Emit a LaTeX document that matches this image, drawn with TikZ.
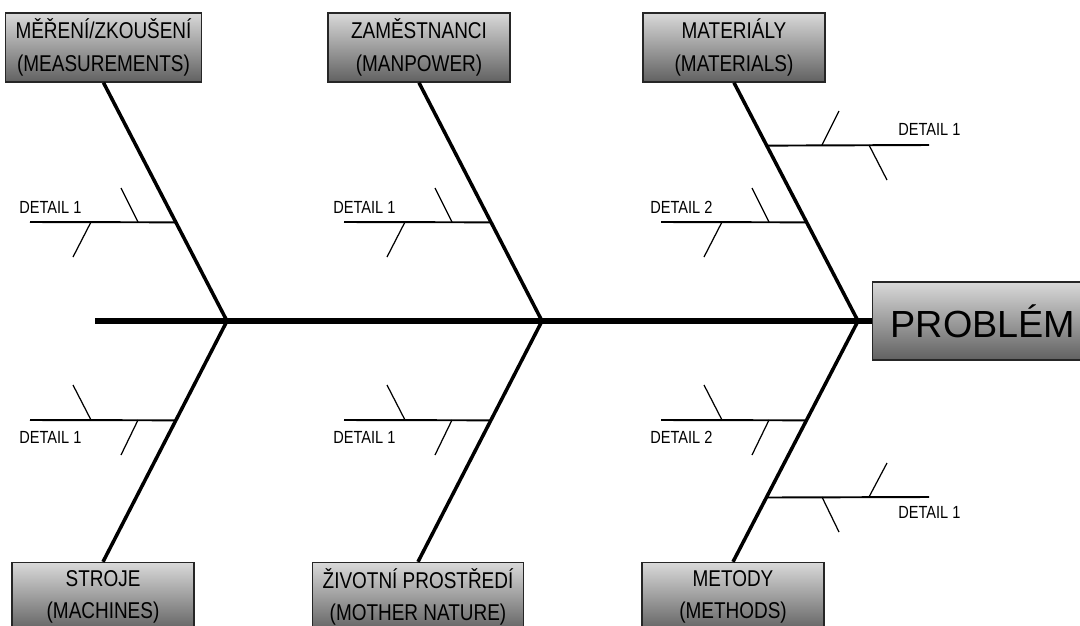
\documentclass[tikz,border=0pt]{standalone}
\usepackage{fontspec}
\setmainfont{Liberation Sans}
\newfontfamily\uzkepismo{Liberation Sans}[FakeStretch=0.83]
\usepackage{tikz}
\usetikzlibrary{calc}
\tikzset{krabice/.style={draw=black!85, line width=0.8pt, rectangle, top color=black!15, bottom color=black!62, align=center, minimum width=3.64cm, minimum height=1.38cm, inner xsep=0.2cm, inner ysep=0.05cm, font=\uzkepismo\fontsize{13}{18.6}\selectfont},
  pater/.style={line width=3pt}, kost/.style={line width=2pt},
  vetev/.style={line width=1.1pt}, trn/.style={line width=0.7pt},
  detail/.style={inner sep=0pt, font=\uzkepismo\fontsize{10}{12}\selectfont}}

\begin{document}
\begin{tikzpicture}[x=0.02cm, y=-0.02cm]
            \useasboundingbox (0,0) rectangle (1080,626);
            \clip (0,0) rectangle (1080,626);

            \node[krabice] (mereni) at (103.5,47.5) {MĚŘENÍ/ZKOUŠENÍ\\(MEASUREMENTS)};
            \node[krabice] (zamestnanci) at (419,47.5) {ZAMĚSTNANCI\\(MANPOWER)};
            \node[krabice] (materialy) at (734,47.5) {MATERIÁLY\\(MATERIALS)};
            \node[krabice] (stroje) at (103,597) {STROJE\\(MACHINES)};
            \node[krabice] (prostredi) at (418,597) {ŽIVOTNÍ PROSTŘEDÍ\\(MOTHER NATURE)};
            \node[krabice] (metody) at (733,597) {METODY\\(METHODS)};
            \node[krabice, anchor=west, minimum width=0cm, minimum height=1.56cm, inner xsep=0.36cm, text width=3.8cm, align=left, font=\fontsize{21.5}{25}\selectfont] (problem) at (872,321) {PROBLÉM};

            \coordinate (ocas) at (95,321);
            \coordinate (kost-1) at (227,321);
            \coordinate (kost-2) at (542,321);
            \coordinate (kost-3) at (858,321);
            \draw[pater] (ocas) -- (problem.west);
            \draw[kost] (mereni.south) -- (kost-1) -- (stroje.north);
            \draw[kost] (zamestnanci.south) -- (kost-2) -- (prostredi.north);
            \draw[kost] (materialy.south) -- (kost-3) -- (metody.north);

            \coordinate (v1-konec) at (30,222);
            \coordinate (v1) at ($(mereni.south)!0.586!(kost-1)$);
            \draw[vetev] (v1-konec) -- (v1);
            \draw[trn] ($(v1-konec)+(108,0)$) -- ++(-17,-34);
            \draw[trn] ($(v1-konec)+(61,0)$) -- ++(-18,35);
            \node[detail, anchor=base west] (d1) at ($(v1-konec)+(-11,-9)$) {DETAIL 1};

            \coordinate (v2-konec) at (344,222);
            \coordinate (v2) at ($(zamestnanci.south)!0.586!(kost-2)$);
            \draw[vetev] (v2-konec) -- (v2);
            \draw[trn] ($(v2-konec)+(108,0)$) -- ++(-17,-34);
            \draw[trn] ($(v2-konec)+(61,0)$) -- ++(-18,35);
            \node[detail, anchor=base west] (d2) at ($(v2-konec)+(-11,-9)$) {DETAIL 1};

            \coordinate (v3-konec) at (661,222);
            \coordinate (v3) at ($(materialy.south)!0.586!(kost-3)$);
            \draw[vetev] (v3-konec) -- (v3);
            \draw[trn] ($(v3-konec)+(108,0)$) -- ++(-17,-34);
            \draw[trn] ($(v3-konec)+(61,0)$) -- ++(-18,35);
            \node[detail, anchor=base west] (d3) at ($(v3-konec)+(-11,-9)$) {DETAIL 2};

            \coordinate (v4-konec) at (929,145);
            \coordinate (v4) at ($(materialy.south)!0.264!(kost-3)$);
            \draw[vetev] (v4) -- (v4-konec);
            \draw[trn] ($(v4-konec)+(-107,0)$) -- ++(17,-34);
            \draw[trn] ($(v4-konec)+(-60,0)$) -- ++(18,35);
            \node[detail, anchor=base west] (d4) at ($(v4-konec)+(-31,-10)$) {DETAIL 1};

            \coordinate (v5-konec) at (30,420);
            \coordinate (v5) at ($(kost-1)!0.4125!(stroje.north)$);
            \draw[vetev] (v5-konec) -- (v5);
            \draw[trn] ($(v5-konec)+(61,0)$) -- ++(-18,-35);
            \draw[trn] ($(v5-konec)+(108,0)$) -- ++(-17,35);
            \node[detail, anchor=base west] (d5) at ($(v5-konec)+(-11,23)$) {DETAIL 1};

            \coordinate (v6-konec) at (344,420);
            \coordinate (v6) at ($(kost-2)!0.4125!(prostredi.north)$);
            \draw[vetev] (v6-konec) -- (v6);
            \draw[trn] ($(v6-konec)+(61,0)$) -- ++(-18,-35);
            \draw[trn] ($(v6-konec)+(108,0)$) -- ++(-17,35);
            \node[detail, anchor=base west] (d6) at ($(v6-konec)+(-11,23)$) {DETAIL 1};

            \coordinate (v7-konec) at (661,420);
            \coordinate (v7) at ($(kost-3)!0.4125!(metody.north)$);
            \draw[vetev] (v7-konec) -- (v7);
            \draw[trn] ($(v7-konec)+(61,0)$) -- ++(-18,-35);
            \draw[trn] ($(v7-konec)+(108,0)$) -- ++(-17,35);
            \node[detail, anchor=base west] (d7) at ($(v7-konec)+(-11,23)$) {DETAIL 2};

            \coordinate (v8-konec) at (929,497);
            \coordinate (v8) at ($(kost-3)!0.733!(metody.north)$);
            \draw[vetev] (v8) -- (v8-konec);
            \draw[trn] ($(v8-konec)+(-60,0)$) -- ++(18,-34);
            \draw[trn] ($(v8-konec)+(-107,0)$) -- ++(17,35);
            \node[detail, anchor=base west] (d8) at ($(v8-konec)+(-31,21)$) {DETAIL 1};
      \end{tikzpicture}
\end{document}
